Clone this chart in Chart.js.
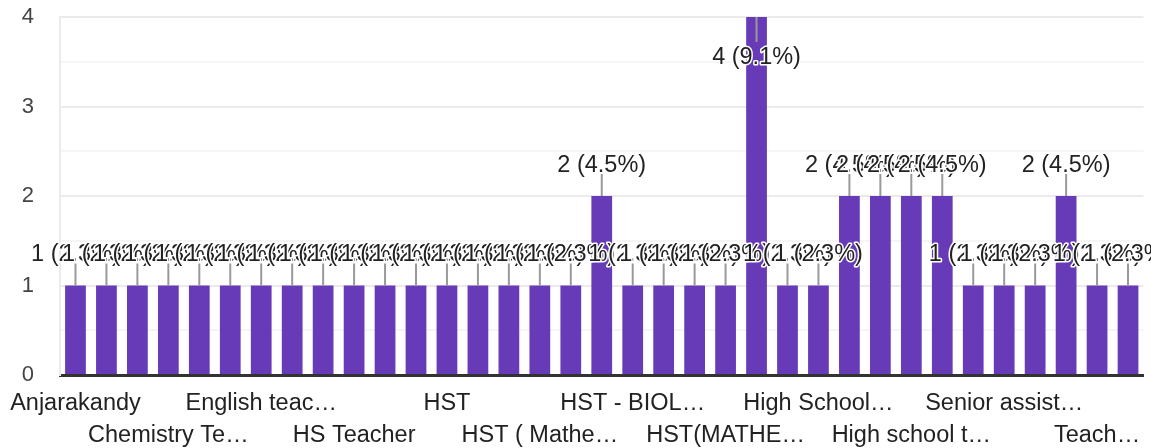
<!DOCTYPE html>
<html>
<head>
<meta charset="utf-8">
<script src="https://cdn.jsdelivr.net/npm/chart.js@4/dist/chart.umd.min.js"></script>
<style>
html,body{margin:0;padding:0;background:#fff;}
#c{display:block;}
</style>
</head>
<body>
<canvas id="c" width="1151" height="448"></canvas>
<script>
// ---- data ----
const categories = [
  "Anjarakandy", "Assistant Teacher", "Biology Teacher", "Chemistry Teacher",
  "Commerce teacher", "English Teacher", "English teacher (HS)", "HS Assistant",
  "HS English", "HS Teacher", "HSA", "HSA English", "HST", "HST ( English)",
  "HST ( Malayalam)", "HST ( Mathematics)", "HST ( Physical Science)",
  "HST ( Social Science)", "HST - BIOLOGY", "HST English", "HST Maths",
  "HST(MATHEMATICS)", "Headmaster", "High School Assistant", "High School Teacher",
  "High school assistant", "High school asst", "High school teacher",
  "Higher Secondary Teacher", "Maths Teacher", "Senior assistant",
  "Social Science Teacher", "Teacher", "Teacher (HS)", "Teaching"
];
const counts = [
  1, 1, 1, 1, 1, 1, 1, 1, 1, 1, 1, 1, 1, 1, 1, 1, 1,
  2, 1, 1, 1, 1, 4, 1, 1, 2, 2, 2, 2, 1, 1, 1, 2, 1, 1
];
const totalResponses = 44;
// visible (truncated) tick labels, shown on every third category, alternating rows
const tickLabels = [
  "Anjarakandy", "Chemistry Te\u2026", "English teac\u2026", "HS Teacher", "HST",
  "HST ( Mathe\u2026", "HST - BIOL\u2026", "HST(MATHE\u2026", "High School\u2026",
  "High school t\u2026", "Senior assist\u2026", "Teach\u2026"
];
const yTickLabels = [0, 1, 2, 3, 4];

const FONT = '"Liberation Sans", Arial, sans-serif';
Chart.defaults.font.family = FONT;

const annotations = {
  id: 'annotations',
  afterDatasetsDraw(chart) {
    const ctx = chart.ctx;
    const meta = chart.getDatasetMeta(0);
    const yMax = chart.scales.y.max;
    ctx.save();
    ctx.strokeStyle = '#999999';
    ctx.lineWidth = 2;
    meta.data.forEach((bar, i) => {
      const flip = counts[i] >= yMax;
      ctx.beginPath();
      if (flip) { ctx.moveTo(bar.x, bar.y); ctx.lineTo(bar.x, bar.y + 25); }
      else { ctx.moveTo(bar.x, bar.y - 22); ctx.lineTo(bar.x, bar.y); }
      ctx.stroke();
    });
    ctx.font = '23.5px ' + FONT;
    ctx.textAlign = 'center';
    ctx.textBaseline = 'alphabetic';
    ctx.lineJoin = 'round';
    meta.data.forEach((bar, i) => {
      const v = counts[i];
      const txt = v + ' (' + (v / totalResponses * 100).toFixed(1) + '%)';
      const flip = v >= yMax;
      const y = flip ? bar.y + 47 : bar.y - 24.5;
      ctx.strokeStyle = '#ffffff';
      ctx.lineWidth = 3;
      ctx.strokeText(txt, bar.x, y);
      ctx.fillStyle = '#222222';
      ctx.fillText(txt, bar.x, y);
    });
    ctx.restore();
  }
};

new Chart(document.getElementById('c'), {
  type: 'bar',
  data: {
    labels: categories,
    datasets: [{
      data: counts,
      backgroundColor: '#673ab7',
      barPercentage: 0.67,
      categoryPercentage: 1
    }]
  },
  options: {
    responsive: false,
    animation: false,
    layout: { padding: { top: 17, right: 7.5, left: 0, bottom: 0 } },
    plugins: { legend: { display: false }, tooltip: { enabled: false } },
    scales: {
      x: {
        grid: { display: false, drawTicks: false },
        border: { display: true, color: '#333333', width: 3 },
        afterFit(scale) {
          scale.height = 73;
          scale.paddingLeft = 0; scale.paddingRight = 0;
          scale.paddingTop = 0; scale.paddingBottom = 0;
        },
        ticks: {
          autoSkip: false,
          maxRotation: 0,
          minRotation: 0,
          padding: 13,
          color: '#222222',
          font: { size: 23.5, lineHeight: 32 / 23.5 },
          callback(value, index) {
            if (index % 3 !== 0) return '';
            const k = index / 3;
            const t = tickLabels[k];
            return k % 2 === 0 ? t : ['', t];
          }
        }
      },
      y: {
        min: 0,
        max: 4,
        afterFit(scale) {
          scale.width = 60;
          scale.paddingTop = 0; scale.paddingBottom = 0;
          scale.paddingLeft = 0; scale.paddingRight = 0;
        },
        grid: {
          drawTicks: false,
          lineWidth: 2,
          color(ctx) {
            const v = ctx.tick ? ctx.tick.value : 0;
            return Number.isInteger(v) ? '#ebebeb' : '#f5f5f5';
          }
        },
        border: { display: true, color: '#ebebeb', width: 2 },
        ticks: {
          stepSize: 0.5,
          padding: 26,
          color: '#444444',
          font: { size: 22 },
          callback(value) { return yTickLabels.includes(value) ? String(value) : ''; }
        }
      }
    }
  },
  plugins: [annotations]
});
</script>
</body>
</html>
